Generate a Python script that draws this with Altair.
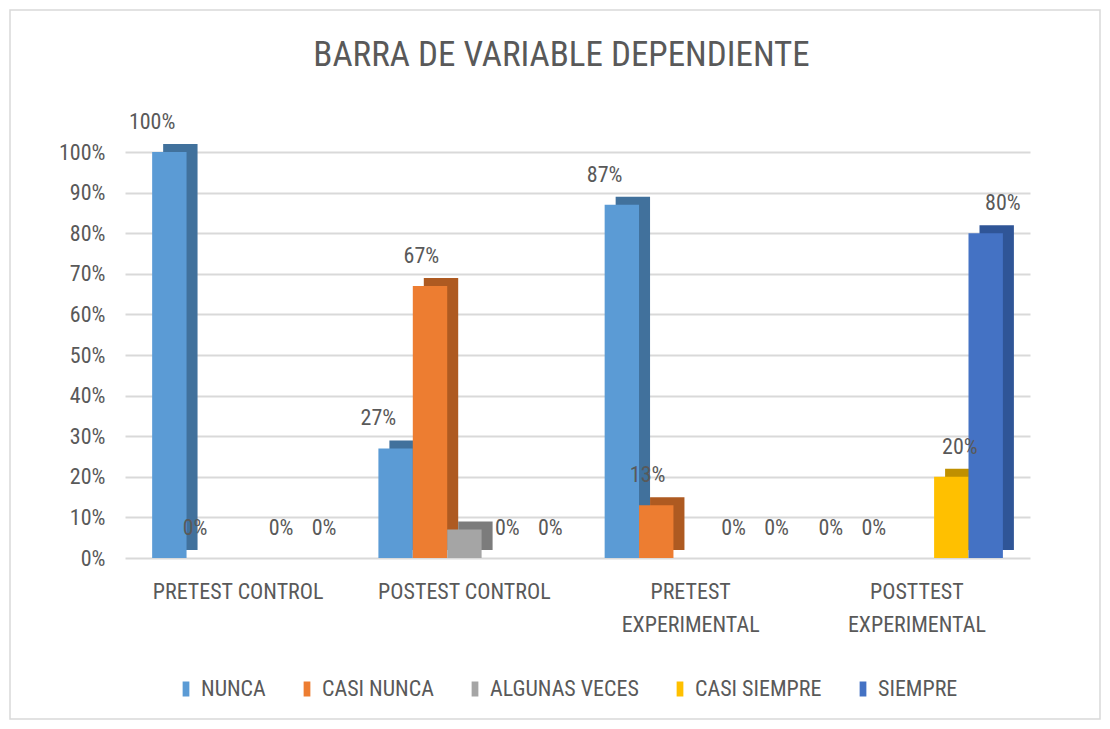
import altair as alt
import pandas as pd

# ---- data ----
categories = ["PRETEST CONTROL", "POSTEST CONTROL", "PRETEST EXPERIMENTAL", "POSTTEST EXPERIMENTAL"]
series = ["NUNCA", "CASI NUNCA", "ALGUNAS VECES", "CASI SIEMPRE", "SIEMPRE"]
nunca = [1.00, 0.27, 0.87, 0.00]
casi_nunca = [0.00, 0.67, 0.13, 0.00]
algunas_veces = [0.00, 0.07, 0.00, 0.00]
casi_siempre = [0.00, 0.00, 0.00, 0.20]
siempre = [0.00, 0.00, 0.00, 0.80]
labelled = [True, True, False, True, True]  # ALGUNAS VECES has no data labels
y_ticks = [0, 0.1, 0.2, 0.3, 0.4, 0.5, 0.6, 0.7, 0.8, 0.9, 1.0]

rows = []
for s, vals, lab in zip(series, [nunca, casi_nunca, algunas_veces, casi_siempre, siempre], labelled):
    for c, v in zip(categories, vals):
        rows.append({"grupo": c, "serie": s, "valor": v, "etiqueta": lab})
df = pd.DataFrame(rows)

# ---- style ----
front_colors = ["#5B9BD5", "#ED7D31", "#A5A5A5", "#FFC000", "#4472C4"]
side_colors = ["#41719C", "#AE5A21", "#7C7C7C", "#BF9000", "#2F5597"]
FONT = "Liberation Sans Narrow, Roboto Condensed, Roboto, sans-serif"
GRAY = "#595959"
W, H = 905, 406
GROUP = 172
DEPTH = 11

x_scale = alt.Scale(domain=categories, paddingInner=0.24, paddingOuter=0.12)
y_scale = alt.Scale(domain=[0, 1])

x_axis = alt.Axis(
    title=None, domain=False, ticks=False, labelAngle=0,
    labelFont=FONT, labelFontSize=22, labelColor=GRAY, labelPadding=23,
    labelLineHeight=33,
    labelExpr="indexof(datum.label, 'EXPERIMENTAL') >= 0 ? split(datum.label, ' ') : datum.label",
)
y_axis = alt.Axis(
    title=None, domain=False, ticks=False, values=y_ticks, format=".0%",
    labelFont=FONT, labelFontSize=22, labelColor=GRAY, labelPadding=20,
    grid=True, gridColor="#D9D9D9", gridWidth=1.8,
)

X = alt.X("grupo:N", sort=categories, scale=x_scale, axis=x_axis)
Y = alt.Y("valor:Q", scale=y_scale, axis=y_axis)


def offset(lo):
    return alt.XOffset("serie:N", sort=series,
                       scale=alt.Scale(domain=series, range=[lo, lo + GROUP],
                                       paddingInner=0, paddingOuter=0))


base = alt.Chart(df)

depth = base.mark_bar(yOffset=-8).encode(
    x=X, xOffset=offset(DEPTH), y=Y,
    color=alt.Color("serie:N", scale=alt.Scale(domain=series, range=side_colors), legend=None),
)

front = base.mark_bar().encode(
    x=X, xOffset=offset(0), y=Y,
    color=alt.Color(
        "serie:N",
        scale=alt.Scale(domain=series, range=front_colors),
        legend=alt.Legend(
            title=None, orient="none", direction="horizontal", columns=5,
            legendX=50, legendY=526, symbolType="M-0.45,-1H0.45V1H-0.45Z", symbolSize=225,
            symbolStrokeWidth=0, labelFont=FONT, labelFontSize=22, labelColor=GRAY,
            columnPadding=30, symbolOffset=0, labelOffset=4,
        ),
    ),
)

labels = base.transform_filter("datum.etiqueta").mark_text(
    font=FONT, fontSize=22, color=GRAY, baseline="bottom", dy=-18
).encode(
    x=X, xOffset=offset(0), y=Y,
    text=alt.Text("valor:Q", format=".0%"),
)

frame = alt.Chart(pd.DataFrame({"k": [0]})).mark_rect(
    fill="transparent", stroke="#D9D9D9", strokeWidth=1.5
).encode(
    x=alt.value(-115), x2=alt.value(W + 70),
    y=alt.value(-142), y2=alt.value(H + 161),
)

chart = alt.layer(depth, front, labels, frame).resolve_scale(
    xOffset="independent", color="independent"
).properties(
    width=W, height=H,
    background="white",
    autosize=alt.AutoSizeParams(type="none"),
    padding={"left": 117, "top": 144, "right": 72, "bottom": 163},
    title=alt.TitleParams(
        "BARRA DE VARIABLE DEPENDIENTE", font=FONT, fontSize=35, fontWeight="normal",
        color=GRAY, anchor="middle", offset=-64, dx=-16,
    ),
).configure_view(strokeWidth=0)

chart.save("out.html", embed_options={"renderer": "svg", "actions": False})
